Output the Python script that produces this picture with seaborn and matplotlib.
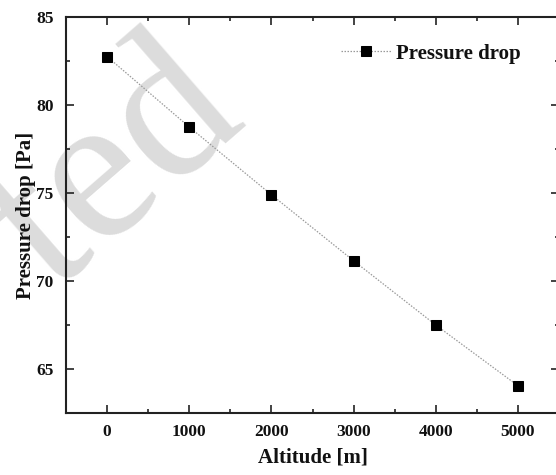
import matplotlib
matplotlib.use("Agg")
import matplotlib.pyplot as plt
import seaborn as sns
import pandas as pd
from matplotlib.ticker import MultipleLocator

altitude = [0, 1000, 2000, 3000, 4000, 5000]
pressure_drop = [82.75, 78.75, 74.9, 71.15, 67.5, 64.05]
x_ticks = [0, 1000, 2000, 3000, 4000, 5000]
y_ticks = [65, 70, 75, 80, 85]

sns.set_theme(style="ticks")
plt.rcParams['font.family'] = ['Liberation Serif', 'DejaVu Serif']
plt.rcParams['font.weight'] = 'bold'

df = pd.DataFrame({"Altitude": altitude, "Pressure": pressure_drop})

fig = plt.figure(figsize=(5.56, 4.75), dpi=100)
ax = fig.add_axes([66/556, 1 - 413/475, (559 - 66)/556, (413 - 17)/475])

# watermark (partially visible)
fig.text(248/556, 1 - 122/475, "ted", fontsize=152, color="#dcdcdc",
         family="Liberation Serif", fontweight="normal", rotation=41,
         rotation_mode="anchor", ha="right", va="baseline", zorder=-1)
ax.patch.set_alpha(0)

sns.lineplot(data=df, x="Altitude", y="Pressure", ax=ax, color="#9a9a9a",
             linestyle=(0, (1.2, 1.2)), linewidth=0.9, marker="s", markersize=6.8,
             markerfacecolor="black", markeredgecolor="black",
             label="Pressure drop")

ax.set_xlim(-500, 5500)
ax.set_ylim(62.5, 85)
ax.set_xticks(x_ticks)
ax.set_yticks(y_ticks)
ax.xaxis.set_minor_locator(MultipleLocator(500))
ax.yaxis.set_minor_locator(MultipleLocator(2.5))
ax.tick_params(which="both", direction="in", top=True, right=True, width=1.2,
               labelsize=12.5, color="#222222", labelcolor="#111111")
ax.tick_params(which="major", length=6)
ax.tick_params(which="minor", length=3)
ax.tick_params(axis="y", which="major", pad=9)
ax.tick_params(axis="x", which="major", pad=8)
for lab in ax.get_xticklabels() + ax.get_yticklabels():
    lab.set_fontweight("bold")
for s in ax.spines.values():
    s.set_linewidth(1.5)
    s.set_color("#222222")

ax.set_xlabel("Altitude [m]", fontsize=15, fontweight="bold", labelpad=5,
              color="#111111")
ax.set_ylabel("Pressure drop [Pa]", fontsize=15, fontweight="bold", labelpad=0,
              color="#111111")

leg = ax.legend(loc="upper right", bbox_to_anchor=(0.96, 0.98), frameon=False,
                prop={"family": "Liberation Serif", "weight": "bold", "size": 15},
                handlelength=2.45, handletextpad=0.2)
for t in leg.get_texts():
    t.set_color("#111111")

fig.savefig("out.png", dpi=100)
